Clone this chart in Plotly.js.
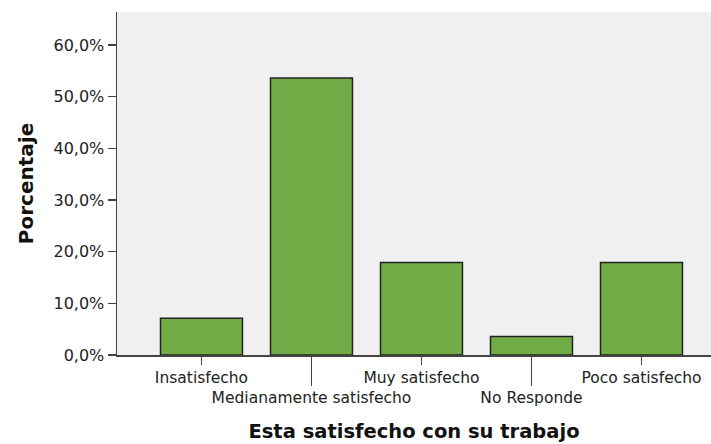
<!DOCTYPE html>
<html><head><meta charset="utf-8">
<script src="https://cdn.plot.ly/plotly-3.0.1.min.js"></script>
<style>html,body{margin:0;padding:0;background:#fff}</style>
</head><body>
<div id="chart" style="width:711px;height:444px"></div>
<script>
const categories = ["Insatisfecho","Medianamente satisfecho","Muy satisfecho","No Responde","Poco satisfecho"];
const percentages = [7.1, 53.6, 17.9, 3.6, 17.9];
const yTicks = [0,10,20,30,40,50,60];

const idx = categories.map((c,i)=>i);
const tickText = categories.map((c,i)=> i%2===1 ? "<br>"+c : c);
const oddIdx = idx.filter(i=>i%2===1);
const yTickText = yTicks.map(v => v.toFixed(1).replace('.', ',') + '%');

const traces = [{
  type:'bar', x: idx, y: percentages, width:0.745,
  marker:{color:'#70ad47', line:{color:'#222', width:1.5}},
  hoverinfo:'skip'
},{
  type:'scatter', x: idx, y: percentages, xaxis:'x2', mode:'none', showlegend:false, hoverinfo:'skip'
}];

const xr = [-0.768, 4.632];
const layout = {
  width:711, height:444,
  margin:{l:117, r:0, t:12, b:89},
  paper_bgcolor:'#ffffff', plot_bgcolor:'#f0f0f0',
  showlegend:false, bargap:0,
  font:{family:'DejaVu Sans, sans-serif', color:'#222'},
  xaxis:{range:xr, tickvals:idx, ticktext:tickText, tickangle:0,
    ticks:'outside', ticklen:8, tickwidth:1.5, tickcolor:'#444',
    showline:true, linecolor:'#444', linewidth:1.5, showgrid:false, zeroline:false,
    tickfont:{size:15.5, color:'#222'}, fixedrange:true,
    title:{text:'<b>Esta satisfecho con su trabajo</b>', font:{size:19.5, family:'DejaVu Sans, sans-serif', color:'#111'}, standoff:18}},
  xaxis2:{range:xr, overlaying:'x', anchor:'y', side:'bottom', tickvals:oddIdx, ticks:'outside', ticklen:30, tickwidth:1.5, tickcolor:'#444',
    showticklabels:false, showgrid:false, zeroline:false, showline:false},
  yaxis:{range:[0,66.4], tickvals:yTicks, ticktext:yTickText,
    ticks:'outside', ticklen:8, tickwidth:1.5, tickcolor:'#444',
    showline:true, linecolor:'#444', linewidth:1.5, showgrid:false, zeroline:false,
    tickfont:{size:16, color:'#222'},
    title:{text:'<b>Porcentaje</b>', font:{size:20, family:'DejaVu Sans, sans-serif', color:'#111'}, standoff:14}}
};
Plotly.newPlot('chart', traces, layout, {displayModeBar:false, staticPlot:true});
</script>
</body></html>
